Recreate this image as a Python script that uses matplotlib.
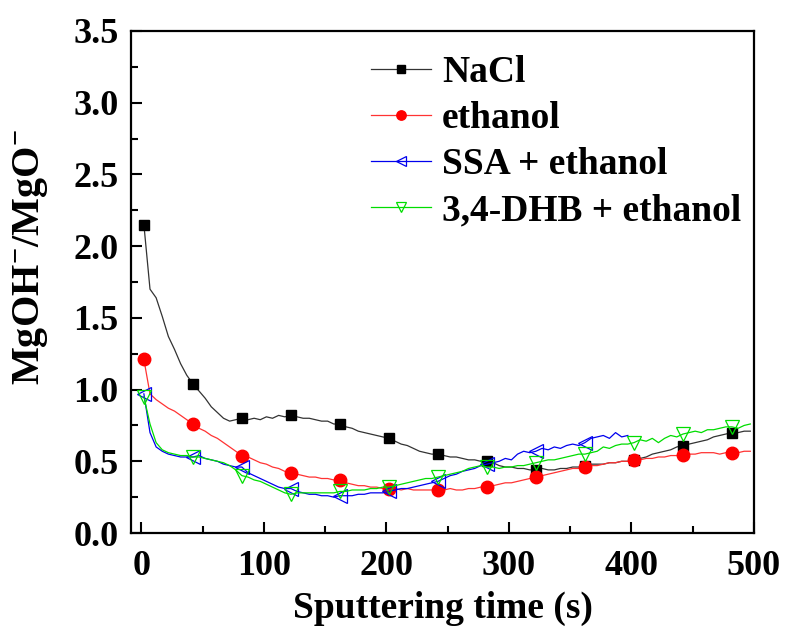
import numpy as np
import matplotlib
matplotlib.use("Agg")
import matplotlib.pyplot as plt

plt.rcParams['font.family'] = ['Liberation Serif', 'DejaVu Serif']
plt.rcParams['font.weight'] = 'bold'
plt.rcParams['mathtext.fontset'] = 'custom'
plt.rcParams['mathtext.rm'] = 'Liberation Serif:bold'
plt.rcParams['mathtext.bf'] = 'Liberation Serif:bold'
plt.rcParams['mathtext.it'] = 'Liberation Serif:bold'

# sputtering time grid (s), one reading every 5 s
time_s = np.arange(2, 500, 5)
time_ssa = time_s[:80]

nacl = [2.15, 1.70, 1.64, 1.51, 1.37, 1.28, 1.18, 1.10, 1.04, 0.99,
        0.94, 0.88, 0.84, 0.80, 0.78, 0.79, 0.80, 0.79, 0.80, 0.79,
        0.81, 0.80, 0.82, 0.81, 0.82, 0.81, 0.80, 0.80, 0.79, 0.78,
        0.78, 0.76, 0.76, 0.74, 0.73, 0.71, 0.70, 0.69, 0.68, 0.67,
        0.66, 0.64, 0.62, 0.61, 0.59, 0.57, 0.56, 0.55, 0.55, 0.54,
        0.53, 0.53, 0.52, 0.51, 0.51, 0.50, 0.50, 0.49, 0.47, 0.46,
        0.46, 0.45, 0.45, 0.44, 0.44, 0.45, 0.44, 0.44, 0.45, 0.45,
        0.46, 0.46, 0.47, 0.48, 0.48, 0.48, 0.49, 0.49, 0.50, 0.50,
        0.51, 0.52, 0.53, 0.55, 0.56, 0.57, 0.58, 0.60, 0.61, 0.62,
        0.63, 0.64, 0.65, 0.67, 0.68, 0.69, 0.70, 0.70, 0.71, 0.71]

ethanol = [1.21, 0.97, 0.93, 0.90, 0.87, 0.85, 0.82, 0.79, 0.76, 0.73,
           0.71, 0.68, 0.66, 0.63, 0.60, 0.57, 0.54, 0.53, 0.51, 0.49,
           0.48, 0.46, 0.45, 0.43, 0.42, 0.41, 0.40, 0.39, 0.39, 0.38,
           0.38, 0.37, 0.37, 0.35, 0.34, 0.33, 0.33, 0.32, 0.32, 0.31,
           0.31, 0.31, 0.30, 0.31, 0.30, 0.30, 0.30, 0.30, 0.30, 0.30,
           0.31, 0.30, 0.30, 0.31, 0.31, 0.32, 0.32, 0.33, 0.34, 0.35,
           0.35, 0.36, 0.37, 0.38, 0.39, 0.40, 0.41, 0.42, 0.43, 0.44,
           0.45, 0.45, 0.46, 0.47, 0.47, 0.48, 0.49, 0.49, 0.50, 0.50,
           0.51, 0.51, 0.52, 0.52, 0.53, 0.53, 0.54, 0.54, 0.545, 0.55,
           0.55, 0.56, 0.56, 0.56, 0.55, 0.56, 0.56, 0.56, 0.57, 0.57]

ssa_ethanol = [0.97, 0.70, 0.60, 0.57, 0.55, 0.54, 0.53, 0.53, 0.53, 0.54,
               0.52, 0.51, 0.50, 0.48, 0.47, 0.46, 0.46, 0.42, 0.40, 0.38,
               0.36, 0.34, 0.32, 0.31, 0.31, 0.29, 0.28, 0.27, 0.27, 0.26,
               0.26, 0.25, 0.26, 0.26, 0.26, 0.27, 0.27, 0.28, 0.28, 0.28,
               0.29, 0.30, 0.31, 0.31, 0.32, 0.33, 0.34, 0.35, 0.36, 0.38,
               0.40, 0.41, 0.43, 0.44, 0.45, 0.47, 0.48, 0.49, 0.50, 0.52,
               0.51, 0.55, 0.57, 0.56, 0.57, 0.59, 0.58, 0.60, 0.59, 0.61,
               0.62, 0.61, 0.63, 0.66, 0.67, 0.68, 0.66, 0.70, 0.67, 0.68]

dhb_ethanol = [0.95, 0.76, 0.63, 0.58, 0.56, 0.55, 0.54, 0.54, 0.53, 0.53,
               0.52, 0.51, 0.50, 0.49, 0.47, 0.44, 0.40, 0.39, 0.37, 0.36,
               0.34, 0.32, 0.30, 0.28, 0.27, 0.28, 0.28, 0.28, 0.28, 0.28,
               0.28, 0.28, 0.29, 0.29, 0.30, 0.30, 0.30, 0.31, 0.31, 0.32,
               0.32, 0.33, 0.34, 0.35, 0.36, 0.37, 0.38, 0.38, 0.39, 0.40,
               0.41, 0.42, 0.43, 0.45, 0.46, 0.47, 0.46, 0.46, 0.45, 0.46,
               0.46, 0.47, 0.47, 0.48, 0.49, 0.50, 0.51, 0.51, 0.52, 0.53,
               0.54, 0.55, 0.55, 0.56, 0.57, 0.60, 0.59, 0.61, 0.62, 0.62,
               0.63, 0.65, 0.64, 0.66, 0.63, 0.66, 0.68, 0.67, 0.69, 0.70,
               0.71, 0.70, 0.72, 0.72, 0.73, 0.74, 0.74, 0.73, 0.75, 0.76]

labels = ['NaCl', 'ethanol', 'SSA + ethanol', '3,4-DHB + ethanol']

fig = plt.figure(figsize=(7.85, 6.27), dpi=100)
ax = fig.add_axes([0.1669, 0.1499, 0.7936, 0.8007])

# markers every 40 s (every 8th reading)
ax.plot(time_s, nacl, color='#333333', lw=0.9, marker='s', ms=7.5,
        mfc='black', mec='black', markevery=8, label=labels[0])
ax.plot(time_s, ethanol, color='#ff3333', lw=0.9, marker='o', ms=9,
        mfc='red', mec='red', markevery=8, label=labels[1])
ax.plot(time_ssa, ssa_ethanol, color='#0000ee', lw=0.9, marker='<', ms=10,
        mfc='none', mec='#0000ee', mew=0.9, markevery=8, label=labels[2])
ax.plot(time_s, dhb_ethanol, color='#00dd00', lw=0.9, marker='v', ms=10,
        mfc='none', mec='#00dd00', mew=0.9, markevery=8, label=labels[3])

ax.set_xlim(-8.5, 500)
ax.set_ylim(0, 3.5)
ax.set_xticks([0, 100, 200, 300, 400, 500])
ax.set_xticks(np.arange(50, 500, 100), minor=True)
ax.set_yticks(np.arange(0, 3.6, 0.5))
ax.set_yticks(np.arange(0.25, 3.5, 0.5), minor=True)
ax.yaxis.set_major_formatter(matplotlib.ticker.FormatStrFormatter('%.1f'))

ax.tick_params(which='major', direction='in', length=8, width=1.5,
               labelsize=26, pad=9)
ax.tick_params(which='minor', direction='in', length=5, width=1.5)
ax.tick_params(axis='x', pad=12)
for sp in ax.spines.values():
    sp.set_linewidth(1.6)

ax.set_xlabel('Sputtering time (s)', fontsize=27, fontweight='bold', labelpad=6)
ax.set_ylabel(r'MgOH$^{-}$/MgO$^{-}$', fontsize=29, fontweight='bold')
ax.yaxis.set_label_coords(-0.13, 0.55)

ax.legend(loc='upper left', bbox_to_anchor=(0.355, 0.99), frameon=False,
          fontsize=27, handlelength=1.6, handletextpad=0.3, labelspacing=0.3,
          borderpad=0, markerscale=0.75)

fig.savefig('out.png', dpi=100)
